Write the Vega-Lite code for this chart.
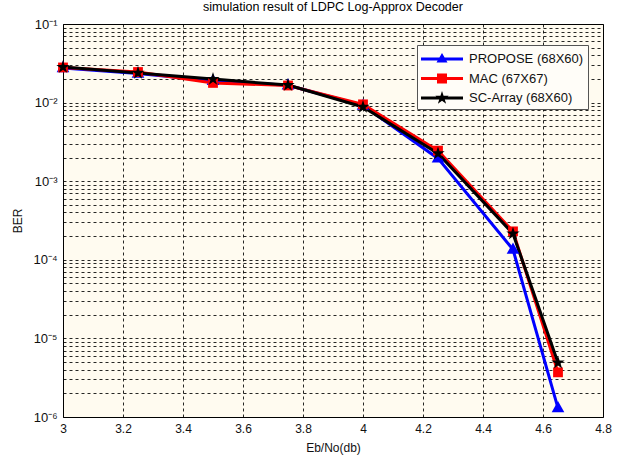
{
  "$schema": "https://vega.github.io/schema/vega-lite/v6.json",
  "width": 540,
  "height": 393,
  "autosize": "none",
  "padding": {"left": 63, "top": 24, "right": 31, "bottom": 39},
  "background": "white",
  "title": {"text": "simulation result of LDPC Log-Approx Decoder", "font": "Liberation Sans", "fontSize": 12.5, "fontWeight": "normal", "color": "black", "anchor": "middle", "offset": 5},
  "config": {
    "view": {"fill": "#fffbf0", "stroke": "black", "strokeWidth": 1},
    "axis": {"labelFont": "Liberation Sans", "labelFontSize": 12, "labelColor": "#111", "titleFont": "Liberation Sans", "titleFontSize": 12, "titleFontWeight": "normal", "titleColor": "#111", "gridColor": "black", "gridDash": [3, 3], "gridWidth": 1, "gridOpacity": 0.85, "domain": false, "ticks": false}
  },
  "data": {"values": [
    {"x": 3, "ber": 0.0275, "s": "PROPOSE (68X60)"},
    {"x": 3.25, "ber": 0.0235, "s": "PROPOSE (68X60)"},
    {"x": 3.5, "ber": 0.019, "s": "PROPOSE (68X60)"},
    {"x": 3.75, "ber": 0.0166, "s": "PROPOSE (68X60)"},
    {"x": 4, "ber": 0.0092, "s": "PROPOSE (68X60)"},
    {"x": 4.25, "ber": 0.00195, "s": "PROPOSE (68X60)"},
    {"x": 4.5, "ber": 0.000135, "s": "PROPOSE (68X60)"},
    {"x": 4.65, "ber": 0.0000013, "s": "PROPOSE (68X60)"},
    {"x": 3, "ber": 0.028, "s": "MAC (67X67)"},
    {"x": 3.25, "ber": 0.0245, "s": "MAC (67X67)"},
    {"x": 3.5, "ber": 0.0178, "s": "MAC (67X67)"},
    {"x": 3.75, "ber": 0.0165, "s": "MAC (67X67)"},
    {"x": 4, "ber": 0.0095, "s": "MAC (67X67)"},
    {"x": 4.25, "ber": 0.00245, "s": "MAC (67X67)"},
    {"x": 4.5, "ber": 0.00023, "s": "MAC (67X67)"},
    {"x": 4.65, "ber": 0.0000037, "s": "MAC (67X67)"},
    {"x": 3, "ber": 0.0283, "s": "SC-Array (68X60)"},
    {"x": 3.25, "ber": 0.0238, "s": "SC-Array (68X60)"},
    {"x": 3.5, "ber": 0.0199, "s": "SC-Array (68X60)"},
    {"x": 3.75, "ber": 0.0167, "s": "SC-Array (68X60)"},
    {"x": 4, "ber": 0.0088, "s": "SC-Array (68X60)"},
    {"x": 4.25, "ber": 0.00225, "s": "SC-Array (68X60)"},
    {"x": 4.5, "ber": 0.000215, "s": "SC-Array (68X60)"},
    {"x": 4.65, "ber": 0.0000049, "s": "SC-Array (68X60)"}
  ]},
  "encoding": {
    "x": {"field": "x", "type": "quantitative", "scale": {"domain": [3, 4.8], "nice": false, "zero": false},
      "axis": {"title": "Eb/No(db)", "values": [3, 3.2, 3.4, 3.6, 3.8, 4, 4.2, 4.4, 4.6, 4.8], "format": "~g", "labelPadding": 6, "titlePadding": 8, "labelFlush": false}},
    "y": {"field": "ber", "type": "quantitative", "scale": {"type": "log", "domain": [0.000001, 0.1], "nice": false},
      "axis": {"title": "BER", "titlePadding": 8,
        "values": [0.000001, 0.000002, 0.000003, 0.000004, 0.000005, 0.000006, 0.000007, 0.000008, 0.000009,
                   0.00001, 0.00002, 0.00003, 0.00004, 0.00005, 0.00006, 0.00007, 0.00008, 0.00009,
                   0.0001, 0.0002, 0.0003, 0.0004, 0.0005, 0.0006, 0.0007, 0.0008, 0.0009,
                   0.001, 0.002, 0.003, 0.004, 0.005, 0.006, 0.007, 0.008, 0.009,
                   0.01, 0.02, 0.03, 0.04, 0.05, 0.06, 0.07, 0.08, 0.09, 0.1],
        "labelExpr": "abs(log(datum.value)/LN10 - round(log(datum.value)/LN10)) < 0.001 ? '10' + '\u207b' + ['\u2070','\u00b9','\u00b2','\u00b3','\u2074','\u2075','\u2076'][-round(log(datum.value)/LN10)] : ''",
        "labelPadding": 6, "labelFontSize": 13}}
  },
  "layer": [
    {
      "mark": {"type": "line", "strokeWidth": 3},
      "encoding": {
        "color": {"field": "s", "type": "nominal", "sort": null,
          "scale": {"domain": ["PROPOSE (68X60)", "MAC (67X67)", "SC-Array (68X60)"], "range": ["#0000ff", "#ff0000", "#000000"]},
          "legend": {"title": null, "orient": "none", "legendX": 354, "legendY": 21,
            "fillColor": "#fffdf8", "strokeColor": "#555", "padding": 4,
            "labelFont": "Liberation Sans", "labelFontSize": 13, "labelColor": "#111", "labelOffset": 28,
            "symbolSize": 400, "symbolStrokeWidth": 0, "rowPadding": 2.5,
            "encode": {"symbols": {"update": {
              "shape": {"signal": "datum.value == 'PROPOSE (68X60)' ? 'M-1,-0.15L3.2,-0.15L3.2,0.15L-1,0.15Z M1.1,-0.6L1.65,0.35L0.55,0.35Z' : datum.value == 'MAC (67X67)' ? 'M-1,-0.15L3.2,-0.15L3.2,0.15L-1,0.15Z M0.6,-0.5L1.6,-0.5L1.6,0.5L0.6,0.5Z' : 'M-1,-0.15L3.2,-0.15L3.2,0.15L-1,0.15Z M1.1,-0.7L1.257,-0.216L1.766,-0.216L1.354,0.083L1.511,0.566L1.1,0.267L0.689,0.566L0.846,0.083L0.434,-0.216L0.943,-0.216Z'"},
              "fill": {"signal": "datum.value == 'PROPOSE (68X60)' ? '#0000ff' : datum.value == 'MAC (67X67)' ? '#ff0000' : '#000000'"},
              "strokeWidth": {"value": 0},
              "opacity": {"value": 1}
            }}}
          }}
      }
    },
    {
      "transform": [{"filter": "datum.s == 'PROPOSE (68X60)'"}],
      "mark": {"type": "point", "filled": true, "size": 196, "opacity": 1, "color": "#0000ff", "shape": "M0,-1L0.9,0.6L-0.9,0.6Z"}
    },
    {
      "transform": [{"filter": "datum.s == 'MAC (67X67)'"}],
      "mark": {"type": "point", "filled": true, "size": 196, "opacity": 1, "color": "#ff0000", "shape": "M-0.7,-0.7L0.7,-0.7L0.7,0.7L-0.7,0.7Z"}
    },
    {
      "transform": [{"filter": "datum.s == 'SC-Array (68X60)'"}],
      "mark": {"type": "point", "filled": true, "size": 196, "opacity": 1, "color": "#000000", "shape": "M0,-1L0.2245,-0.309L0.951,-0.309L0.363,0.118L0.588,0.809L0,0.382L-0.588,0.809L-0.363,0.118L-0.951,-0.309L-0.2245,-0.309Z"}
    }
  ]
}
